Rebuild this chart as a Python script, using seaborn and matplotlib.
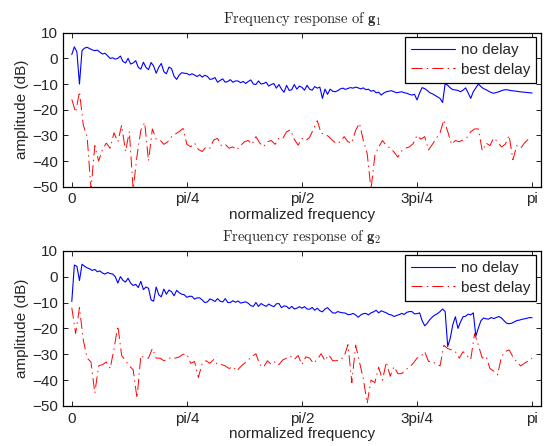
import numpy as np
import pandas as pd
import matplotlib
matplotlib.use("Agg")
import matplotlib.pyplot as plt
import seaborn as sns

# ---------------- data ----------------
g1_no_delay = [
    1.5, 4.5, 2.5, -10.0, 3.0, 4.0, 4.3, 3.8, 3.3, 3.0,
    3.2, 2.4, 1.7, 2.0, 1.0, 0.0, 0.2, -0.3, 0.0, 0.9,
    -1.2, -1.8, 0.0, -2.2, -1.8, -0.9, -3.5, -4.2, -1.5, -3.5,
    -4.4, -1.6, -3.0, -5.8, -3.5, -2.0, -5.2, -6.0, -3.4, -4.0,
    -7.0, -8.2, -6.5, -5.6, -5.8, -5.9, -6.5, -6.0, -6.5, -7.1,
    -6.4, -7.3, -6.6, -7.0, -8.2, -8.0, -7.5, -9.3, -8.6, -8.0,
    -9.3, -9.0, -8.3, -9.3, -8.8, -8.8, -9.5, -9.0, -9.8, -9.0,
    -8.4, -10.0, -10.2, -8.8, -10.0, -9.8, -9.3, -10.8, -10.2, -9.8,
    -11.6, -10.2, -12.0, -13.2, -10.5, -12.5, -12.2, -10.2, -12.0, -10.8,
    -11.3, -12.4, -10.5, -12.0, -12.4, -11.0, -11.6, -11.2, -15.6, -12.0,
    -14.0, -12.0, -12.8, -13.0, -12.6, -11.9, -11.6, -12.1, -11.7, -11.4,
    -11.6, -11.2, -11.5, -11.9, -11.5, -12.2, -12.0, -12.8, -12.5, -13.4,
    -13.2, -14.3, -13.5, -13.0, -12.8, -12.6, -13.0, -13.4, -13.2, -13.0,
    -13.4, -13.6, -14.0, -14.3, -14.0, -16.2, -13.5, -11.4, -11.8, -12.5,
    -13.4, -13.8, -14.4, -15.0, -15.6, -17.2, -9.8, -10.5, -11.5, -12.2,
    -12.3, -12.5, -13.0, -12.4, -11.5, -13.5, -15.6, -13.0, -11.5, -10.0,
    -11.0, -11.8, -12.2, -12.8, -13.3, -13.6, -13.3, -13.0, -12.6, -12.3,
    -12.2, -12.4, -12.6, -12.7, -12.8, -13.0, -13.1, -13.2, -13.3, -13.4,
    -13.5,
]

g1_best_delay = [
    -16, -21, -13, -26, -30.5, -51, -34, -40, -35.5, -33,
    -35, -29, -32.5, -26, -36.3, -28.5, -51, -38, -28, -25,
    -40, -27.5, -31.5, -31.8, -33.5, -32.5, -30.5, -29.5, -28.5, -27.3,
    -33.5, -34.4, -33, -35.5, -36.3, -34.5, -35, -31.8, -31.2, -34,
    -33.5, -35, -34.5, -35.7, -34, -32.5, -32, -33.5, -30.5, -33,
    -34.4, -32.5, -32, -33.5, -31, -31.2, -28.6, -27.9, -31.5, -33.8,
    -31.2, -32, -30.8, -27.5, -24.3, -29.2, -29.5, -30.5, -32, -33.2,
    -32.5, -30.5, -32.5, -33, -28, -25.3, -32, -37, -51, -38,
    -34.5, -32, -34, -35, -36.5, -38.5, -36, -35, -34.5, -33.2,
    -30, -31.5, -30.5, -35.7, -33.5, -31.2, -29, -24, -28.5, -33.5,
    -32, -32.5, -31.8, -30.8, -28.6, -27.5, -27.5, -36, -33, -34,
    -31, -32.5, -34.5, -33.5, -30, -39.5, -34, -35, -33, -31.5,
    -31,
]

g2_no_delay = [
    -9.6, 4.5, 4.0, -1.5, 4.8, 4.0, 3.4, 3.0, 2.4, 2.8,
    1.9, 2.2, 1.4, 1.0, 1.6, 1.2, 1.0, 0.0, -2.5, 0.0,
    -1.4, -2.1, -0.6, -2.5, -3.4, -3.0, -4.2, -1.8, -5.0, -4.0,
    -4.5, -9.0, -9.5, -4.0, -7.0, -7.8, -4.8, -6.8, -5.2, -5.8,
    -7.4, -5.3, -6.2, -6.8, -7.0, -8.0, -7.6, -7.6, -8.7, -8.2,
    -8.2, -9.0, -10.0, -9.8, -8.6, -9.0, -9.6, -8.5, -9.5, -9.8,
    -8.5, -10.0, -10.0, -9.3, -9.9, -9.4, -10.2, -10.0, -9.7, -10.3,
    -11.2, -11.5, -10.0, -11.5, -10.4, -11.0, -11.5, -10.6, -11.2, -11.6,
    -10.5, -10.4, -12.0, -11.3, -11.5, -12.4, -11.5, -12.5, -12.2, -11.6,
    -12.2, -11.6, -12.5, -12.6, -11.9, -13.0, -12.2, -13.2, -13.6, -12.5,
    -12.0, -13.0, -14.0, -14.1, -13.5, -13.8, -14.0, -14.1, -14.7, -14.6,
    -14.2, -14.8, -15.7, -14.8, -14.3, -14.2, -14.8, -14.0, -13.6, -13.0,
    -14.0, -13.2, -13.6, -14.0, -14.6, -14.8, -15.4, -15.0, -14.7, -14.2,
    -14.6, -13.8, -13.5, -13.5, -14.4, -14.3, -14.0, -17.0, -19.0, -18.0,
    -16.6, -15.6, -14.8, -14.3, -13.5, -12.5, -13.5, -27.0, -23.8, -18.5,
    -15.5, -20.0, -17.5, -15.5, -15.3, -14.5, -14.8, -14.0, -23.0, -19.8,
    -17.0, -16.0, -16.3, -16.4, -15.8, -16.2, -15.8, -15.4, -16.0, -17.0,
    -18.0, -18.2, -18.0, -17.5, -17.0, -16.8, -16.5, -16.3, -16.1, -15.8,
    -15.9,
]

g2_best_delay = [
    -12, -22, -12, -24.5, -31.5, -33, -45, -34.5, -34, -33,
    -35.5, -28, -19, -30.5, -32.5, -34.5, -36, -47, -30.5, -31.5,
    -31.5, -27.8, -31.5, -31.5, -32.5, -31.8, -31.2, -31.5, -31, -30,
    -30, -33.5, -32.8, -39, -33.5, -32.5, -33.5, -32, -34, -34,
    -34.5, -35.5, -34.8, -36.5, -34.8, -33.5, -32.2, -30.8, -29.8, -34,
    -35, -32.5, -34, -32.8, -34, -32.2, -31.5, -30.8, -32, -30.5,
    -34, -31, -31.5, -33.5, -32, -29.8, -32.5, -30.2, -32.5, -32.5,
    -32.2, -30.8, -26.3, -41, -26.5, -33, -39.5, -49, -40, -41,
    -35, -40, -33, -38.5, -34.8, -37.5, -37.5, -36, -35, -33.5,
    -31.5, -30.8, -29, -32.8, -32.8, -33.8, -34.5, -26.5, -27.8, -28.3,
    -29, -31.5, -29, -30.5, -32, -22, -26.5, -31.5, -30.8, -35.5,
    -36.5, -38, -31, -29, -28.3, -31, -33, -34.5, -33.5, -32.5,
    -31.5,
]

series_labels = ["no delay", "best delay"]
x_tick_labels = ["0", "pi/4", "pi/2", "3pi/4", "pi"]
y_ticks = [-50, -40, -30, -20, -10, 0, 10]
titles = [r"$\mathrm{Frequency\ response\ of\ }\mathbf{g}_1$",
          r"$\mathrm{Frequency\ response\ of\ }\mathbf{g}_2$"]
x_label = "normalized frequency"
y_label = "amplitude (dB)"

# ---------------- style ----------------
sns.set_style("ticks")
plt.rcParams["font.family"] = ["Liberation Sans", "DejaVu Sans"]
plt.rcParams["mathtext.fontset"] = "cm"
plt.rcParams["xtick.direction"] = "in"
plt.rcParams["ytick.direction"] = "in"
plt.rcParams["xtick.top"] = True
plt.rcParams["ytick.right"] = True
plt.rcParams["lines.scale_dashes"] = False

fig = plt.figure(figsize=(5.48, 4.46), dpi=100)
positions = [[0.1155, 0.5814, 0.871, 0.3453], [0.1155, 0.0897, 0.871, 0.348]]
no_delay = [g1_no_delay, g2_no_delay]
best_delay = [g1_best_delay, g2_best_delay]

for k in range(2):
    ax = fig.add_axes(positions[k])
    f_dense = np.linspace(0, np.pi, len(no_delay[k]))
    f_coarse = np.linspace(0, np.pi, len(best_delay[k]))
    df_a = pd.DataFrame({"f": f_dense, "amp": no_delay[k]})
    df_b = pd.DataFrame({"f": f_coarse, "amp": best_delay[k]})
    sns.lineplot(data=df_a, x="f", y="amp", ax=ax, color="#0000ff",
                 linewidth=0.8, label=series_labels[0], estimator=None, sort=False)
    sns.lineplot(data=df_b, x="f", y="amp", ax=ax, color="#ff0000",
                 linewidth=0.7, linestyle=(0, (8, 3, 1, 3)),
                 label=series_labels[1], estimator=None, sort=False)
    ax.set_xlim(-0.058, np.pi + 0.058)
    ax.set_ylim(-50, 10)
    ax.set_xticks([0, np.pi / 4, np.pi / 2, 3 * np.pi / 4, np.pi])
    ax.set_xticklabels(x_tick_labels)
    ax.set_yticks(y_ticks)
    ax.tick_params(labelsize=11, length=3.5, width=0.6, color="black", pad=4)
    for s in ax.spines.values():
        s.set_linewidth(0.9)
        s.set_color("black")
    ax.set_xlabel(x_label, fontsize=11, labelpad=1)
    ax.set_ylabel(y_label, fontsize=11, labelpad=2)
    ax.set_title(titles[k], fontsize=10.5, pad=7)
    leg = ax.legend(loc="upper right", fontsize=11, frameon=True, fancybox=False,
                    framealpha=1, edgecolor="black", handlelength=2.9,
                    handletextpad=0.35, borderpad=0.4, labelspacing=0.35,
                    borderaxespad=0.3)
    leg.get_frame().set_linewidth(0.9)

fig.savefig("out.png", dpi=100)
